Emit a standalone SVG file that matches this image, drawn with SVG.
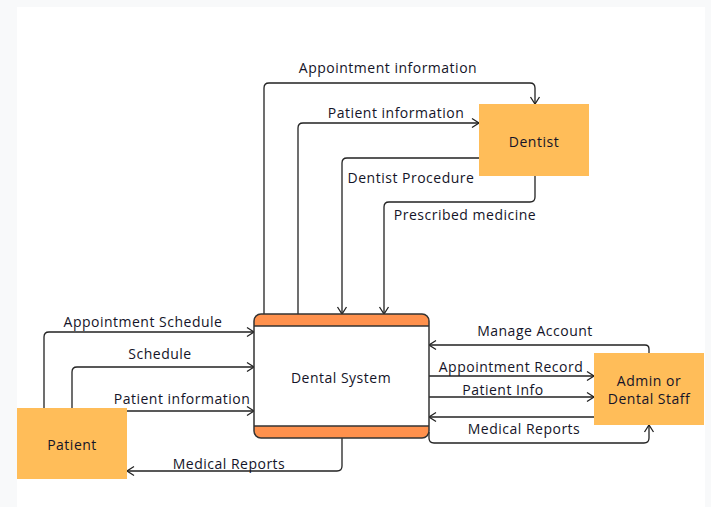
<svg xmlns="http://www.w3.org/2000/svg" width="711" height="507" viewBox="0 0 711 507">
<style>
.lbl{font-family:"Open Sans","Liberation Sans",sans-serif;font-size:14px;letter-spacing:0.5px;fill:#141428;text-anchor:middle}
.ent{fill:#ffbd59}
.con{fill:none;stroke:#222;stroke-width:1.3}
</style>
<defs>
<marker id="arr" viewBox="0 0 12 12" refX="10" refY="6" markerWidth="12" markerHeight="12" markerUnits="userSpaceOnUse" orient="auto">
<path d="M3,1.5 L10,6 L3,10.5" fill="none" stroke="#222" stroke-width="1.3"/>
</marker>
</defs>
<rect x="0" y="0" width="711" height="507" fill="#f8f9fa"/>
<rect x="17" y="7" width="688" height="500" fill="#ffffff"/>
<g id="connectors">
<path class="con" marker-end="url(#arr)" d="M264,326 V88 Q264,83 269,83 H530 Q535,83 535,88 V104"/>
<path class="con" marker-end="url(#arr)" d="M298,314 V128 Q298,123 303,123 H479"/>
<path class="con" marker-end="url(#arr)" d="M479,158 H347 Q342,158 342,163 V314"/>
<path class="con" marker-end="url(#arr)" d="M535,176 V197 Q535,202 530,202 H389 Q384,202 384,207 V314"/>
<path class="con" marker-end="url(#arr)" d="M44,408 V337 Q44,332 49,332 H254"/>
<path class="con" marker-end="url(#arr)" d="M72,408 V372 Q72,367 77,367 H254"/>
<path class="con" marker-end="url(#arr)" d="M127,411 H254"/>
<path class="con" marker-end="url(#arr)" d="M342,438 V466 Q342,471 337,471 H127"/>
<path class="con" marker-end="url(#arr)" d="M649,353 V349 Q649,345 645,345 H429"/>
<path class="con" marker-end="url(#arr)" d="M429,376 H594"/>
<path class="con" marker-end="url(#arr)" d="M429,397 H594"/>
<path class="con" marker-end="url(#arr)" d="M594,417 H429"/>
<path class="con" marker-end="url(#arr)" d="M429,432 V438 Q429,443 434,443 H644 Q649,443 649,438 V425"/>
<text class="lbl" x="388" y="73">Appointment information</text>
<text class="lbl" x="396" y="118">Patient information</text>
<text class="lbl" x="411" y="183">Dentist Procedure</text>
<text class="lbl" x="465" y="220">Prescribed medicine</text>
<text class="lbl" x="143" y="327">Appointment Schedule</text>
<text class="lbl" x="160" y="359">Schedule</text>
<text class="lbl" x="182" y="404">Patient information</text>
<text class="lbl" x="229" y="469">Medical Reports</text>
<text class="lbl" x="535" y="336">Manage Account</text>
<text class="lbl" x="511" y="372">Appointment Record</text>
<text class="lbl" x="503" y="395">Patient Info</text>
<text class="lbl" x="524" y="434">Medical Reports</text>
</g>
<g id="dental-system">
<rect x="254" y="314" width="175" height="124" rx="7" fill="#ffffff"/>
<path d="M254,326 V321 Q254,314 261,314 H422 Q429,314 429,321 V326 Z" fill="#ff914d"/>
<path d="M254,426 H429 V431 Q429,438 422,438 H261 Q254,438 254,431 Z" fill="#ff914d"/>
<line x1="254" y1="326" x2="429" y2="326" stroke="#333" stroke-width="1.3"/>
<line x1="254" y1="426" x2="429" y2="426" stroke="#333" stroke-width="1.3"/>
<rect x="254" y="314" width="175" height="124" rx="7" fill="none" stroke="#333" stroke-width="1.5"/>
<text class="lbl" x="341" y="383">Dental System</text>
</g>
<g id="dentist">
<rect class="ent" x="479" y="104" width="110" height="72"/>
<text class="lbl" x="534" y="147">Dentist</text>
</g>
<g id="patient">
<rect class="ent" x="17" y="408" width="110" height="71"/>
<text class="lbl" x="72" y="450">Patient</text>
</g>
<g id="admin">
<rect class="ent" x="594" y="353" width="110" height="72"/>
<text class="lbl" x="649" y="386">Admin or</text>
<text class="lbl" x="649" y="404">Dental Staff</text>
</g>
</svg>
